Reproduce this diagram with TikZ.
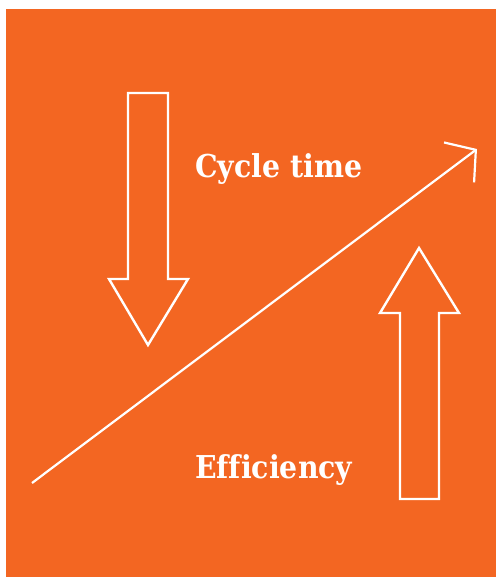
\documentclass[tikz,border=0pt]{standalone}
\usepackage{fontspec}
\newfontfamily\slab[FakeStretch=0.9]{DejaVu Serif}
\usetikzlibrary{arrows.meta}
\definecolor{bgorange}{RGB}{243,102,34}
\tikzset{
  outline/.style={draw=white, line width=2.4pt, line join=miter},
  label/.style={text=white, font=\slab\bfseries\fontsize{31.5}{36}\selectfont, anchor=base west, inner sep=0pt},
  trend/.style={draw=white, line width=2.2pt, -{Straight Barb[length=21pt,width=50pt,line width=2.2pt]}}
}
\begin{document}
\begin{tikzpicture}[x=1pt,y=-1pt]
\useasboundingbox (0,0) rectangle (496,577);
\fill[bgorange] (6,9) rectangle (496,577);
% down arrow
\draw[outline] (128,93) -- (168,93) -- (168,279) -- (188,279) -- (148,345) -- (109,279) -- (128,279) -- cycle;
% up arrow
\draw[outline] (400,499) -- (439,499) -- (439,313) -- (459,313) -- (419,248) -- (380,313) -- (400,313) -- cycle;
% trend line
\coordinate (s) at (32,483);
\coordinate (e) at (477,149);
\draw[trend] (s) -- (e);
\node[label] (ct) at (195,178) {Cycle time};
\node[label] (ef) at (195,478) {E\kern0ptf\kern0ptf\kern0pticiency};
\end{tikzpicture}
\end{document}
